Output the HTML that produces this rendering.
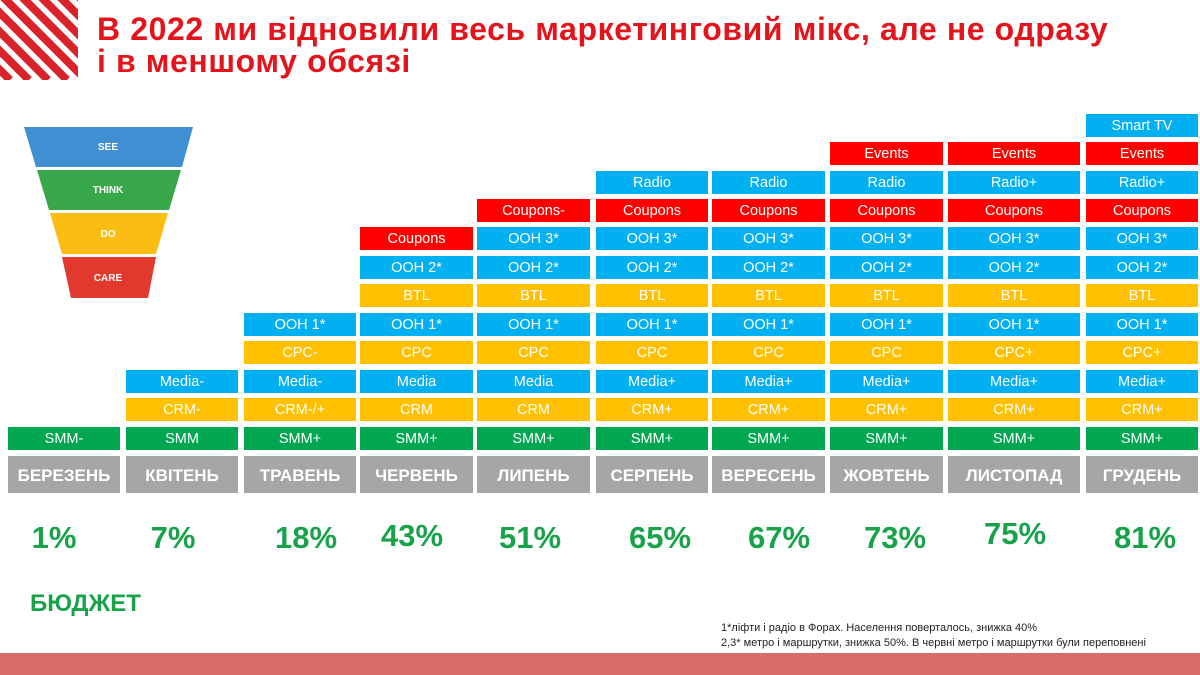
<!DOCTYPE html>
<html><head><meta charset="utf-8"><style>
body{margin:0;width:1200px;height:675px;background:#fff;position:relative;overflow:hidden;font-family:"Liberation Sans","DejaVu Sans",sans-serif}
.t{position:absolute;left:97px;top:13px;color:#e3141c;font-weight:bold;font-size:32px;line-height:32px;letter-spacing:0.6px}
.b{position:absolute;height:23px;color:#fff;font-size:14.5px;line-height:25px;text-align:center}
.g{background:#00a650}.y{background:#ffc000}.u{background:#00b0f0}.r{background:#ff0000}
.m{position:absolute;top:456px;height:37px;background:#a6a6a6;color:#fff;font-weight:bold;font-size:17px;line-height:39px;text-align:center}
.p{position:absolute;top:520px;color:#18a34a;font-weight:bold;font-size:31px;width:120px;text-align:center}
.fn{position:absolute;left:721px;font-size:11px;color:#222}
</style></head><body>
<svg style="position:absolute;left:0;top:0" width="80" height="82">
<defs><clipPath id="c"><rect width="78" height="80"/></clipPath></defs>
<g clip-path="url(#c)" stroke="#d9232a" stroke-width="8">
<line x1="-80" y1="-10" x2="10" y2="80"/><line x1="-61" y1="-10" x2="29" y2="80"/><line x1="-42" y1="-10" x2="48" y2="80"/><line x1="-23" y1="-10" x2="67" y2="80"/><line x1="-4" y1="-10" x2="86" y2="80"/><line x1="15" y1="-10" x2="105" y2="80"/><line x1="34" y1="-10" x2="124" y2="80"/><line x1="53" y1="-10" x2="143" y2="80"/><line x1="72" y1="-10" x2="162" y2="80"/>
</g></svg>
<div class="t">В 2022 ми відновили весь маркетинговий мікс, але не одразу<br>і в меншому обсязі</div>
<svg style="position:absolute;left:0;top:0" width="220" height="310" font-family="Liberation Sans,sans-serif" font-weight="bold" font-size="10" fill="#fff" text-anchor="middle">
<polygon points="24,127 193,127 182,167 36,167" fill="#3f8fd2"/>
<polygon points="37,170 181,170 169,210 49,210" fill="#37a749"/>
<polygon points="50,213 168,213 156,254 62,254" fill="#fbbd12"/>
<polygon points="62,257 156,257 148,298 71,298" fill="#e2392f"/>
<text x="108" y="150">SEE</text><text x="108" y="193">THINK</text><text x="108" y="237">DO</text><text x="108" y="281">CARE</text>
</svg>
<div id="cols"></div>
<div class="b g" style="left:8px;width:112px;top:427px">SMM-</div>
<div class="b g" style="left:126px;width:112px;top:427px">SMM</div>
<div class="b y" style="left:126px;width:112px;top:398px">CRM-</div>
<div class="b u" style="left:126px;width:112px;top:370px">Media-</div>
<div class="b g" style="left:244px;width:112px;top:427px">SMM+</div>
<div class="b y" style="left:244px;width:112px;top:398px">CRM-/+</div>
<div class="b u" style="left:244px;width:112px;top:370px">Media-</div>
<div class="b y" style="left:244px;width:112px;top:341px">CPC-</div>
<div class="b u" style="left:244px;width:112px;top:313px">OOH 1*</div>
<script>
var cols=[[360,113,["SMM+g","CRMy","Mediau","CPCy","OOH 1*u","BTLy","OOH 2*u","Couponsr"]],
[477,113,["SMM+g","CRMy","Mediau","CPCy","OOH 1*u","BTLy","OOH 2*u","OOH 3*u","Coupons-r"]],
[596,112,["SMM+g","CRM+y","Media+u","CPCy","OOH 1*u","BTLy","OOH 2*u","OOH 3*u","Couponsr","Radiou"]],
[712,113,["SMM+g","CRM+y","Media+u","CPCy","OOH 1*u","BTLy","OOH 2*u","OOH 3*u","Couponsr","Radiou"]],
[830,113,["SMM+g","CRM+y","Media+u","CPCy","OOH 1*u","BTLy","OOH 2*u","OOH 3*u","Couponsr","Radiou","Eventsr"]],
[948,132,["SMM+g","CRM+y","Media+u","CPC+y","OOH 1*u","BTLy","OOH 2*u","OOH 3*u","Couponsr","Radio+u","Eventsr"]],
[1086,112,["SMM+g","CRM+y","Media+u","CPC+y","OOH 1*u","BTLy","OOH 2*u","OOH 3*u","Couponsr","Radio+u","Eventsr","Smart TVu"]]];
var tops=[427,398,370,341,313,284,256,227,199,171,142,114],h="";
cols.forEach(function(c){c[2].forEach(function(s,i){h+='<div class="b '+s.slice(-1)+'" style="left:'+c[0]+'px;width:'+c[1]+'px;top:'+tops[i]+'px">'+s.slice(0,-1)+'</div>';});});
document.getElementById("cols").innerHTML=h;
</script>
<div class="m" style="left:8px;width:112px">БЕРЕЗЕНЬ</div>
<div class="m" style="left:126px;width:112px">КВІТЕНЬ</div>
<div class="m" style="left:244px;width:112px">ТРАВЕНЬ</div>
<div class="m" style="left:360px;width:113px">ЧЕРВЕНЬ</div>
<div class="m" style="left:477px;width:113px">ЛИПЕНЬ</div>
<div class="m" style="left:596px;width:112px">СЕРПЕНЬ</div>
<div class="m" style="left:712px;width:113px">ВЕРЕСЕНЬ</div>
<div class="m" style="left:830px;width:113px">ЖОВТЕНЬ</div>
<div class="m" style="left:948px;width:132px">ЛИСТОПАД</div>
<div class="m" style="left:1086px;width:112px">ГРУДЕНЬ</div>
<div class="p" style="left:-6px">1%</div>
<div class="p" style="left:113px">7%</div>
<div class="p" style="left:246px">18%</div>
<div class="p" style="left:352px;top:518px">43%</div>
<div class="p" style="left:470px">51%</div>
<div class="p" style="left:600px">65%</div>
<div class="p" style="left:719px">67%</div>
<div class="p" style="left:835px">73%</div>
<div class="p" style="left:955px;top:516px">75%</div>
<div class="p" style="left:1085px">81%</div>
<div style="position:absolute;left:30px;top:590px;color:#18a34a;font-weight:bold;font-size:24px">БЮДЖЕТ</div>
<div class="fn" style="top:622px">1*ліфти і радіо в Форах. Населення поверталось, знижка 40%</div>
<div class="fn" style="top:637px">2,3* метро і маршрутки, знижка 50%. В червні метро і маршрутки були переповнені</div>
<div style="position:absolute;left:0;top:653px;width:1200px;height:22px;background:#d96b6b"></div>
</body></html>
